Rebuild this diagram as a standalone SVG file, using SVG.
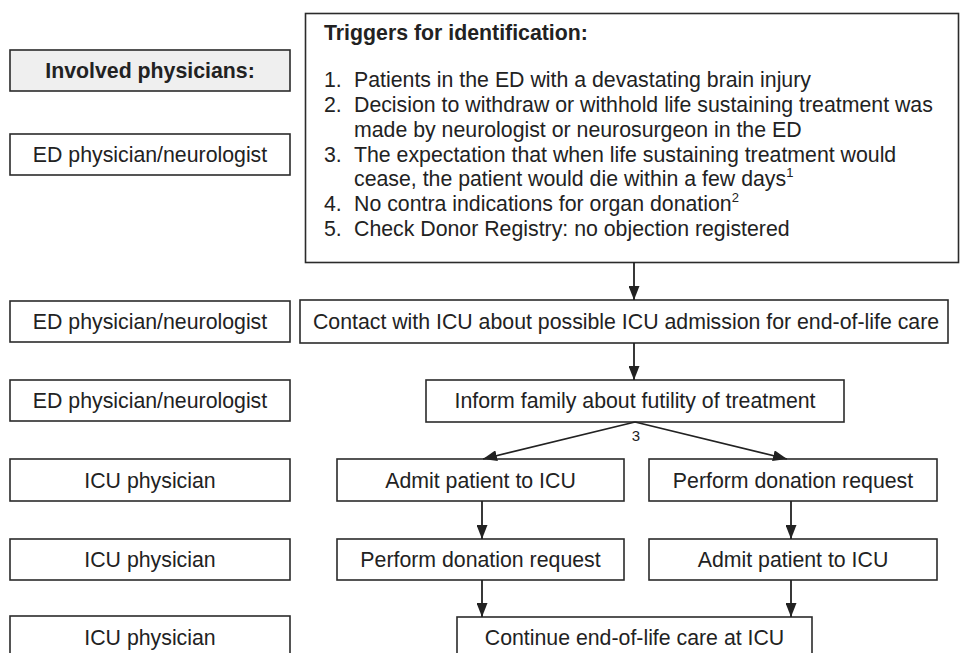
<svg xmlns="http://www.w3.org/2000/svg" width="960" height="653" viewBox="0 0 960 653">
<style>
.box{fill:#fff;stroke:#2b2b2b;stroke-width:1.6}
.hdr{fill:#efefef;stroke:#2b2b2b;stroke-width:1.6}
text{font-family:"Liberation Sans",Arial,sans-serif;font-size:21.3px;fill:#222}
.c{text-anchor:middle}
.b{font-weight:bold}
.sup{font-size:13px}
.lbl{font-size:15px}
.conn line{stroke:#222;stroke-width:1.8;marker-end:url(#ah)}
</style>
<defs>
<marker id="ah" markerUnits="userSpaceOnUse" markerWidth="14" markerHeight="11" refX="14" refY="5.5" orient="auto">
<path d="M0,0 L14,5.5 L0,11 z" fill="#222"/>
</marker>
</defs>
<rect width="960" height="653" fill="#fff"/>

<g id="involved"><rect class="hdr" x="10" y="50" width="280" height="41"/><text class="c b" x="150" y="78">Involved physicians:</text></g>
<g id="role-ed1"><rect class="box" x="10" y="134" width="280" height="41"/><text class="c" x="150" y="162">ED physician/neurologist</text></g>
<g id="role-ed2"><rect class="box" x="10" y="301" width="280" height="41"/><text class="c" x="150" y="329">ED physician/neurologist</text></g>
<g id="role-ed3"><rect class="box" x="10" y="380" width="280" height="41"/><text class="c" x="150" y="408">ED physician/neurologist</text></g>
<g id="role-icu1"><rect class="box" x="10" y="459" width="280" height="42"/><text class="c" x="150" y="488">ICU physician</text></g>
<g id="role-icu2"><rect class="box" x="10" y="539" width="280" height="41"/><text class="c" x="150" y="567">ICU physician</text></g>
<g id="role-icu3"><rect class="box" x="10" y="616" width="280" height="42"/><text class="c" x="150" y="645">ICU physician</text></g>

<g id="triggers">
<rect class="box" x="305.5" y="13.5" width="653" height="249"/>
<text class="b" x="324" y="40">Triggers for identification:</text>
<text x="324" y="87">1.</text><text x="354" y="87">Patients in the ED with a devastating brain injury</text>
<text x="324" y="111.5">2.</text><text x="354" y="111.5">Decision to withdraw or withhold life sustaining treatment was</text>
<text x="354" y="136.5">made by neurologist or neurosurgeon in the ED</text>
<text x="324" y="161.5">3.</text><text x="354" y="161.5">The expectation that when life sustaining treatment would</text>
<text x="354" y="186">cease, the patient would die within a few days<tspan class="sup" dy="-9">1</tspan></text>
<text x="324" y="211">4.</text><text x="354" y="211">No contra indications for organ donation<tspan class="sup" dy="-9">2</tspan></text>
<text x="324" y="235.5">5.</text><text x="354" y="235.5">Check Donor Registry: no objection registered</text>
</g>

<g id="contact"><rect class="box" x="300" y="300" width="648" height="43"/><text class="c" x="626" y="329">Contact with ICU about possible ICU admission for end-of-life care</text></g>
<g id="inform"><rect class="box" x="426" y="380" width="418" height="42"/><text class="c" x="635" y="408">Inform family about futility of treatment</text></g>
<g id="admit1"><rect class="box" x="337" y="459" width="287" height="42"/><text class="c" x="480.5" y="488">Admit patient to ICU</text></g>
<g id="perform1"><rect class="box" x="649" y="459" width="288" height="42"/><text class="c" x="793" y="488">Perform donation request</text></g>
<g id="perform2"><rect class="box" x="337" y="539" width="287" height="41"/><text class="c" x="480.5" y="567">Perform donation request</text></g>
<g id="admit2"><rect class="box" x="649" y="539" width="288" height="41"/><text class="c" x="793" y="567">Admit patient to ICU</text></g>
<g id="continue"><rect class="box" x="457" y="617" width="355" height="42"/><text class="c" x="634.5" y="645">Continue end-of-life care at ICU</text></g>

<g id="connectors" class="conn">
<line x1="634" y1="262" x2="634" y2="300"/>
<line x1="634" y1="343" x2="634" y2="380"/>
<line x1="635" y1="422" x2="483" y2="459"/>
<line x1="635" y1="422" x2="787" y2="459"/>
<line x1="482" y1="501" x2="482" y2="539"/>
<line x1="791" y1="501" x2="791" y2="539"/>
<line x1="482" y1="580" x2="482" y2="617"/>
<line x1="791" y1="580" x2="791" y2="617"/>
<text class="c lbl" x="636" y="441">3</text>
</g>
</svg>
